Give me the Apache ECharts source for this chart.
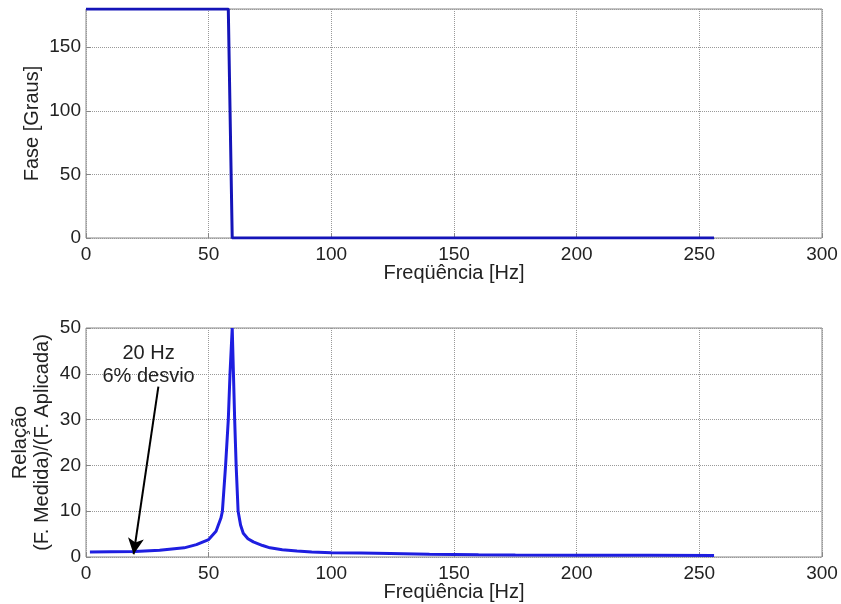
<!DOCTYPE html>
<html>
<head>
<meta charset="utf-8">
<script src="https://cdn.jsdelivr.net/npm/echarts@6/dist/echarts.min.js"></script>
<style>
  html, body { margin: 0; padding: 0; background: #fff; }
  #chart { width: 841px; height: 604px; }
</style>
</head>
<body>
<div id="chart"></div>
<script>
// fase (graus) vs frequencia
const phaseFreq = [0, 58, 59.6, 256];
const phaseVal = [180, 180, 0, 0];

// relacao F.Medida / F.Aplicada vs frequencia
const ratioFreq = [1.6, 10, 20, 30, 40, 45, 50, 53, 55, 55.6, 56.9, 58, 58.7, 59.6, 60.1,
  60.6, 61.2, 62, 63, 64.1, 66, 68.2, 72, 75, 80, 86, 92, 100, 112, 124, 140, 160, 175, 200, 230, 256];
const ratioVal = [1.1, 1.15, 1.2, 1.45, 2.0, 2.7, 3.8, 5.6, 8.5, 10, 20, 30, 40, 50, 40,
  30, 20, 10, 7, 5.2, 4.0, 3.3, 2.5, 2.0, 1.6, 1.3, 1.1, 0.95, 0.85, 0.75, 0.6, 0.5, 0.45, 0.4, 0.37, 0.35];

// nota com seta
const noteText = ['20 Hz', '6% desvio'];
const noteAt = [25.5, 42];
const arrowFrom = [29.5, 37.2];
const arrowTo = [19.4, 0.6];

const font = 'Liberation Sans, Arial, sans-serif';
const txt = '#222';

function xAx(gridIndex) {
  return {
    gridIndex, type: 'value', min: 0, max: 300, interval: 50,
    name: 'Freqüência [Hz]', nameLocation: 'middle', nameGap: 25, nameMoveOverlap: false,
    nameTextStyle: { fontFamily: font, fontSize: 20, color: txt },
    axisLine: { show: false },
    axisTick: { inside: true, length: 5, lineStyle: { color: '#888' } },
    axisLabel: { fontFamily: font, fontSize: 19, color: txt, margin: 7 },
    splitLine: { show: true, lineStyle: { type: 'dotted', color: '#999', width: 1 } }
  };
}

function yAx(gridIndex, max, interval, name, gap) {
  return {
    gridIndex, type: 'value', min: 0, max, interval,
    name, nameLocation: 'middle', nameGap: gap, nameMoveOverlap: false,
    nameTextStyle: { fontFamily: font, fontSize: 20, color: txt, lineHeight: 22 },
    axisLine: { show: false },
    axisTick: { inside: true, length: 5, lineStyle: { color: '#888' } },
    axisLabel: { fontFamily: font, fontSize: 19, color: txt, margin: 5, showMaxLabel: max === 50 },
    splitLine: { show: true, lineStyle: { type: 'dotted', color: '#999', width: 1 } }
  };
}

const chart = echarts.init(document.getElementById('chart'));
chart.setOption({
  backgroundColor: '#fff',
  animation: false,
  grid: [
    { left: 86, right: 19, top: 9, height: 229, show: true, borderColor: '#888', borderWidth: 1, outerBoundsMode: 'none', containLabel: false },
    { left: 86, right: 19, top: 328, height: 229, show: true, borderColor: '#888', borderWidth: 1, outerBoundsMode: 'none', containLabel: false }
  ],
  xAxis: [xAx(0), xAx(1)],
  yAxis: [
    yAx(0, 180, 50, 'Fase [Graus]', 43),
    yAx(1, 50, 10, 'Relação\n(F. Medida)/(F. Aplicada)', 33)
  ],
  series: [
    {
      type: 'line', xAxisIndex: 0, yAxisIndex: 0, showSymbol: false,
      lineStyle: { color: '#1414b8', width: 3 },
      data: phaseFreq.map((f, i) => [f, phaseVal[i]])
    },
    {
      type: 'line', xAxisIndex: 1, yAxisIndex: 1, showSymbol: false,
      lineStyle: { color: '#1e1ee0', width: 3 },
      data: ratioFreq.map((f, i) => [f, ratioVal[i]]),
      markPoint: {
        symbol: 'circle', symbolSize: 0, silent: true,
        label: {
          show: true, formatter: noteText.join('\n'), fontFamily: font,
          fontSize: 20, lineHeight: 23, color: txt, align: 'center'
        },
        data: [{ coord: noteAt }]
      },
      markLine: {
        silent: true, symbol: ['none', 'arrow'], symbolSize: [12, 16],
        lineStyle: { color: '#000', width: 2, type: 'solid' },
        label: { show: false },
        data: [[{ coord: arrowFrom }, { coord: arrowTo }]]
      }
    }
  ]
});
</script>
</body>
</html>
